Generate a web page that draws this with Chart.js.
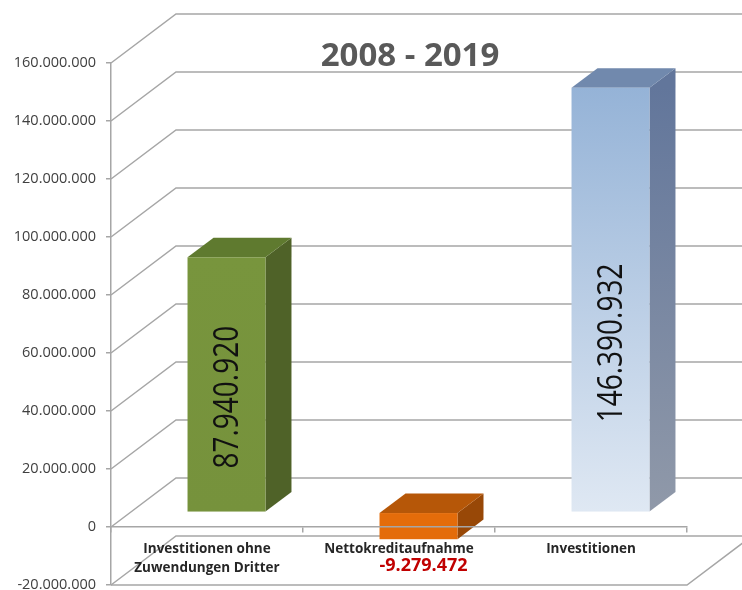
<!DOCTYPE html>
<html lang="de">
<head>
<meta charset="utf-8">
<title>Investitionen 2008 - 2019</title>
<script src="https://cdn.jsdelivr.net/npm/chart.js@4.4.1/dist/chart.umd.min.js"></script>
<style>
  html, body { margin: 0; padding: 0; background: #fff; }
  canvas { display: block; }
</style>
</head>
<body>
<canvas id="investChart" width="742" height="590"></canvas>
<script>
// Chart data
const categories = [["Investitionen ohne", "Zuwendungen Dritter"], "Nettokreditaufnahme", "Investitionen"];
const amounts = [87940920, -9279472, 146390932];
const chartTitle = "2008 - 2019";
const yMin = -20000000;
const yMax = 160000000;
const yStep = 20000000;

// Face colours per bar (front and side run top -> bottom)
const barStyles = [
  { front: ["#78953D", "#76923C"], top: "#5F7A2F", side: ["#4F6228", "#4F6228"] },
  { front: ["#E46C0A", "#E46C0A"], top: "#B65708", side: ["#984807", "#984807"] },
  { front: ["#95B3D7", "#DFE8F3"], top: "#7189AD", side: ["#62769B", "#9099A9"] },
];

// 3D look: depth of the walls and where the bars sit inside it
const WALL_DX = 65;
const WALL_DY = -49;
const BAR_Z0 = 0.3;
const BAR_Z1 = 0.7;
const GRID_COLOR = "#a6a6a6";

// 160000000 -> "160.000.000"
function formatDe(v) {
  const s = Math.round(Math.abs(v)).toString().replace(/\B(?=(\d{3})+(?!\d))/g, ".");
  return (v < 0 ? "-" : "") + s;
}

// Side wall, back wall and floor lines
const walls3d = {
  id: "walls3d",
  beforeDatasetsDraw(chart) {
    const { ctx, chartArea, scales } = chart;
    const y = scales.y;
    ctx.save();
    ctx.strokeStyle = GRID_COLOR;
    ctx.lineWidth = 1.5;
    y.ticks.forEach((t) => {
      const py = y.getPixelForValue(t.value);
      ctx.beginPath();
      ctx.moveTo(chartArea.left, py);
      ctx.lineTo(chartArea.left + WALL_DX, py + WALL_DY);
      ctx.lineTo(chart.width, py + WALL_DY);
      ctx.stroke();
    });
    const pb = y.getPixelForValue(yMin);
    ctx.beginPath();
    ctx.moveTo(chartArea.left, pb);
    ctx.lineTo(chartArea.right, pb);
    ctx.lineTo(chartArea.right + WALL_DX, pb + WALL_DY);
    ctx.stroke();
    ctx.restore();
  },
};

// Draw the columns as boxes plus their value labels
const bars3d = {
  id: "bars3d",
  afterDatasetsDraw(chart) {
    const ctx = chart.ctx;
    const meta = chart.getDatasetMeta(0);
    const ox = WALL_DX * BAR_Z0;
    const oy = WALL_DY * BAR_Z0;
    const dx = WALL_DX * (BAR_Z1 - BAR_Z0);
    const dy = WALL_DY * (BAR_Z1 - BAR_Z0);

    meta.data.forEach((bar, i) => {
      const style = barStyles[i];
      const half = bar.width / 2;
      const left = bar.x - half + ox;
      const right = bar.x + half + ox;
      const top = Math.min(bar.y, bar.base) + oy;
      const bottom = Math.max(bar.y, bar.base) + oy;

      ctx.save();
      // side face
      let g = ctx.createLinearGradient(0, top, 0, bottom);
      g.addColorStop(0, style.side[0]);
      g.addColorStop(1, style.side[1]);
      ctx.fillStyle = g;
      ctx.beginPath();
      ctx.moveTo(right, top);
      ctx.lineTo(right + dx, top + dy);
      ctx.lineTo(right + dx, bottom + dy);
      ctx.lineTo(right, bottom);
      ctx.closePath();
      ctx.fill();

      // top face
      ctx.fillStyle = style.top;
      ctx.beginPath();
      ctx.moveTo(left, top);
      ctx.lineTo(right, top);
      ctx.lineTo(right + dx, top + dy);
      ctx.lineTo(left + dx, top + dy);
      ctx.closePath();
      ctx.fill();

      // front face
      g = ctx.createLinearGradient(0, top, 0, bottom);
      g.addColorStop(0, style.front[0]);
      g.addColorStop(1, style.front[1]);
      ctx.fillStyle = g;
      ctx.fillRect(left, top, right - left, bottom - top);

      // value label
      const value = amounts[i];
      ctx.textAlign = "center";
      ctx.textBaseline = "middle";
      if (value >= 0) {
        const h = bottom - top;
        ctx.translate((left + right) / 2 + 2, bottom - 33 - 0.32 * h);
        ctx.rotate(-Math.PI / 2);
        ctx.scale(0.8, 1);
        ctx.font = '35px "Open Sans"';
        ctx.fillStyle = "#111111";
        ctx.fillText(formatDe(value), 0, 0);
      } else {
        ctx.font = 'bold 18px "Open Sans"';
        ctx.fillStyle = "#C00000";
        ctx.fillText(formatDe(value), (left + right) / 2 + 5, bottom + 27);
      }
      ctx.restore();
    });
  },
};

// Title above the back wall
const titlePlugin = {
  id: "titleText",
  afterDraw(chart) {
    const { ctx, chartArea } = chart;
    ctx.save();
    ctx.font = 'bold 33px "Open Sans"';
    ctx.fillStyle = "#595959";
    ctx.textAlign = "center";
    ctx.textBaseline = "middle";
    ctx.fillText(chartTitle, (chartArea.left + chartArea.right) / 2 + 11, 57);
    ctx.restore();
  },
};

// Initialize Chart
function initializeChart() {
  const ctx = document.getElementById("investChart").getContext("2d");
  new Chart(ctx, {
    type: "bar",
    data: {
      labels: categories,
      datasets: [
        {
          data: amounts,
          backgroundColor: "rgba(0,0,0,0)",
          categoryPercentage: 1,
          barPercentage: 0.406,
        },
      ],
    },
    options: {
      responsive: false,
      animation: false,
      layout: { padding: { top: 63, right: 55, bottom: 5, left: 0 } },
      plugins: {
        legend: { display: false },
        tooltip: { enabled: false },
        title: { display: false },
      },
      scales: {
        x: {
          // category axis sits on the zero line, in front of the bars
          position: { y: 0 },
          offset: true,
          grid: {
            display: true,
            drawOnChartArea: false,
            drawTicks: true,
            tickLength: 5,
            lineWidth: 1.5,
            color: GRID_COLOR,
            offset: true,
            z: 1,
          },
          border: { display: true, color: GRID_COLOR, width: 1.5, z: 1 },
          ticks: {
            color: "#262626",
            font: { family: "Open Sans", size: 13.5, weight: "bold", lineHeight: 1.45 },
            padding: 7,
            maxRotation: 0,
            autoSkip: false,
            z: 1,
          },
          afterFit(scale) {
            scale.height = 0;
            scale.paddingLeft = 0;
            scale.paddingRight = 0;
          },
        },
        y: {
          min: yMin,
          max: yMax,
          ticks: {
            stepSize: yStep,
            color: "#404040",
            font: { family: "Open Sans", size: 14.5 },
            padding: 10,
            callback: (v) => formatDe(v),
          },
          grid: {
            display: true,
            drawOnChartArea: false,
            tickLength: 5,
            lineWidth: 1.5,
            color: GRID_COLOR,
          },
          border: { display: true, color: GRID_COLOR, width: 1.5 },
          afterFit(scale) {
            scale.width = 111;
            scale.paddingTop = 0;
            scale.paddingBottom = 0;
          },
        },
      },
    },
    plugins: [walls3d, bars3d, titlePlugin],
  });
}

document.addEventListener("DOMContentLoaded", initializeChart);
</script>
</body>
</html>
